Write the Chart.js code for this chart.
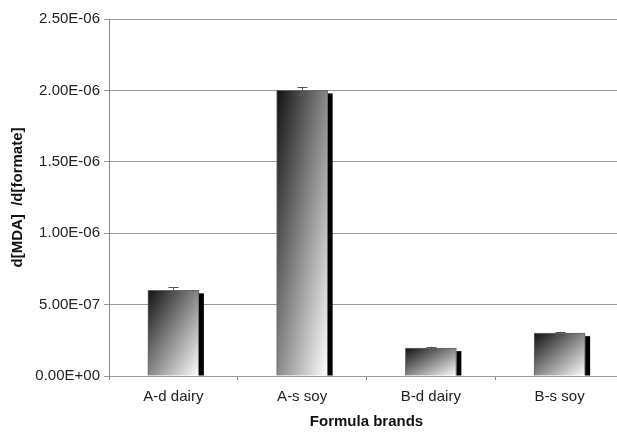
<!DOCTYPE html>
<html>
<head>
<meta charset="utf-8">
<script src="https://cdn.jsdelivr.net/npm/chart.js@4/dist/chart.umd.min.js"></script>
<style>
  html, body { margin: 0; padding: 0; background: #fff; overflow: hidden; }
  #wrap { width: 625px; height: 433px; }
</style>
</head>
<body>
<div id="wrap"><canvas id="mda-chart" width="625" height="433"></canvas></div>
<script>
const brands = ['A-d dairy', 'A-s soy', 'B-d dairy', 'B-s soy'];
const ratios = [6.0e-7, 2.0e-6, 1.95e-7, 3.0e-7];
const ratioErrors = [2.0e-8, 2.5e-8, 1.0e-8, 1.0e-8];
const yTicks = [0, 5e-7, 1e-6, 1.5e-6, 2e-6, 2.5e-6];

const BAR_W = 51;
const FONT = "'Liberation Sans', Arial, sans-serif";

// 0.00E+00 style labels, like the spreadsheet
function sci(v) {
    const [m, e] = Number(v).toExponential(2).split('e');
    return m + 'E' + e[0] + e.slice(1).padStart(2, '0');
}

// diagonal fill: dark top-left corner to white bottom-right, in the bar's own box
function barFill(c) {
    const chart = c.chart;
    if (c.type !== 'data' || !chart.chartArea) return '#888';
    const xs = chart.scales.x, ys = chart.scales.y;
    const cx = xs.getPixelForValue(c.dataIndex);
    const top = ys.getPixelForValue(c.raw);
    const base = ys.getPixelForValue(0);
    const h = Math.max(1, Math.round(base - top));
    const off = document.createElement('canvas');
    off.width = BAR_W; off.height = h;
    const o = off.getContext('2d');
    o.scale(BAR_W, h);
    const g = o.createLinearGradient(0, 0, 1, 1);
    g.addColorStop(0, '#111');
    g.addColorStop(1, '#fff');
    o.fillStyle = g;
    o.fillRect(0, 0, 1, 1);
    const p = chart.ctx.createPattern(off, 'no-repeat');
    p.setTransform(new DOMMatrix().translate(cx - BAR_W / 2, top));
    return p;
}

const barShadow = {
    id: 'barShadow',
    beforeDatasetsDraw(chart) {
        const ctx = chart.ctx;
        ctx.save();
        ctx.fillStyle = '#000';
        chart.getDatasetMeta(0).data.forEach(el => {
            ctx.fillRect(el.x + el.width / 2, el.y + 3, 5, el.base - el.y - 3);
        });
        ctx.restore();
    }
};

const errorBars = {
    id: 'errorBars',
    afterDatasetsDraw(chart) {
        const ctx = chart.ctx, ys = chart.scales.y;
        ctx.save();
        ctx.strokeStyle = '#555';
        ctx.lineWidth = 1;
        chart.getDatasetMeta(0).data.forEach((el, i) => {
            const hi = ys.getPixelForValue(ratios[i] + ratioErrors[i]);
            const lo = ys.getPixelForValue(ratios[i] - ratioErrors[i]);
            const x = Math.round(el.x) + 0.5;
            ctx.beginPath();
            ctx.moveTo(x, hi); ctx.lineTo(x, lo);
            ctx.moveTo(x - 5, Math.round(hi) + 0.5); ctx.lineTo(x + 5, Math.round(hi) + 0.5);
            ctx.moveTo(x - 5, Math.round(lo) + 0.5); ctx.lineTo(x + 5, Math.round(lo) + 0.5);
            ctx.stroke();
        });
        ctx.restore();
    }
};

const mdaChart = new Chart(document.getElementById('mda-chart'), {
    type: 'bar',
    data: {
        labels: brands,
        datasets: [{
            data: ratios,
            backgroundColor: barFill,
            borderColor: '#666',
            borderWidth: 1,
            barThickness: BAR_W
        }]
    },
    options: {
        responsive: false,
        devicePixelRatio: 1,
        animation: false,
        layout: { padding: { left: 0, right: 1, top: 19, bottom: 0 } },
        plugins: {
            legend: { display: false },
            tooltip: { enabled: false }
        },
        scales: {
            x: {
                afterFit: s => { s.height = 57; },
                grid: { drawOnChartArea: false, drawTicks: true, tickLength: 4, color: '#888' },
                border: { color: '#999', width: 1 },
                ticks: { color: '#222', padding: 8, font: { family: FONT, size: 15 } },
                title: {
                    display: true,
                    text: 'Formula brands',
                    color: '#111',
                    padding: { top: 0, bottom: 2 },
                    font: { family: FONT, size: 15, weight: 'bold' }
                }
            },
            y: {
                min: 0,
                max: 2.5e-6,
                afterFit: s => { s.width = 109; },
                afterBuildTicks: s => { s.ticks = yTicks.map(v => ({ value: v })); },
                grid: { color: '#999', tickLength: 5 },
                border: { color: '#888', width: 1 },
                ticks: {
                    color: '#222',
                    padding: 4,
                    font: { family: FONT, size: 15 },
                    callback: v => sci(v)
                },
                title: {
                    display: true,
                    text: 'd[MDA]  /d[formate]',
                    color: '#111',
                    padding: { top: 9, bottom: 0 },
                    font: { family: FONT, size: 15, weight: 'bold' }
                }
            }
        }
    },
    plugins: [barShadow, errorBars]
});
</script>
</body>
</html>
